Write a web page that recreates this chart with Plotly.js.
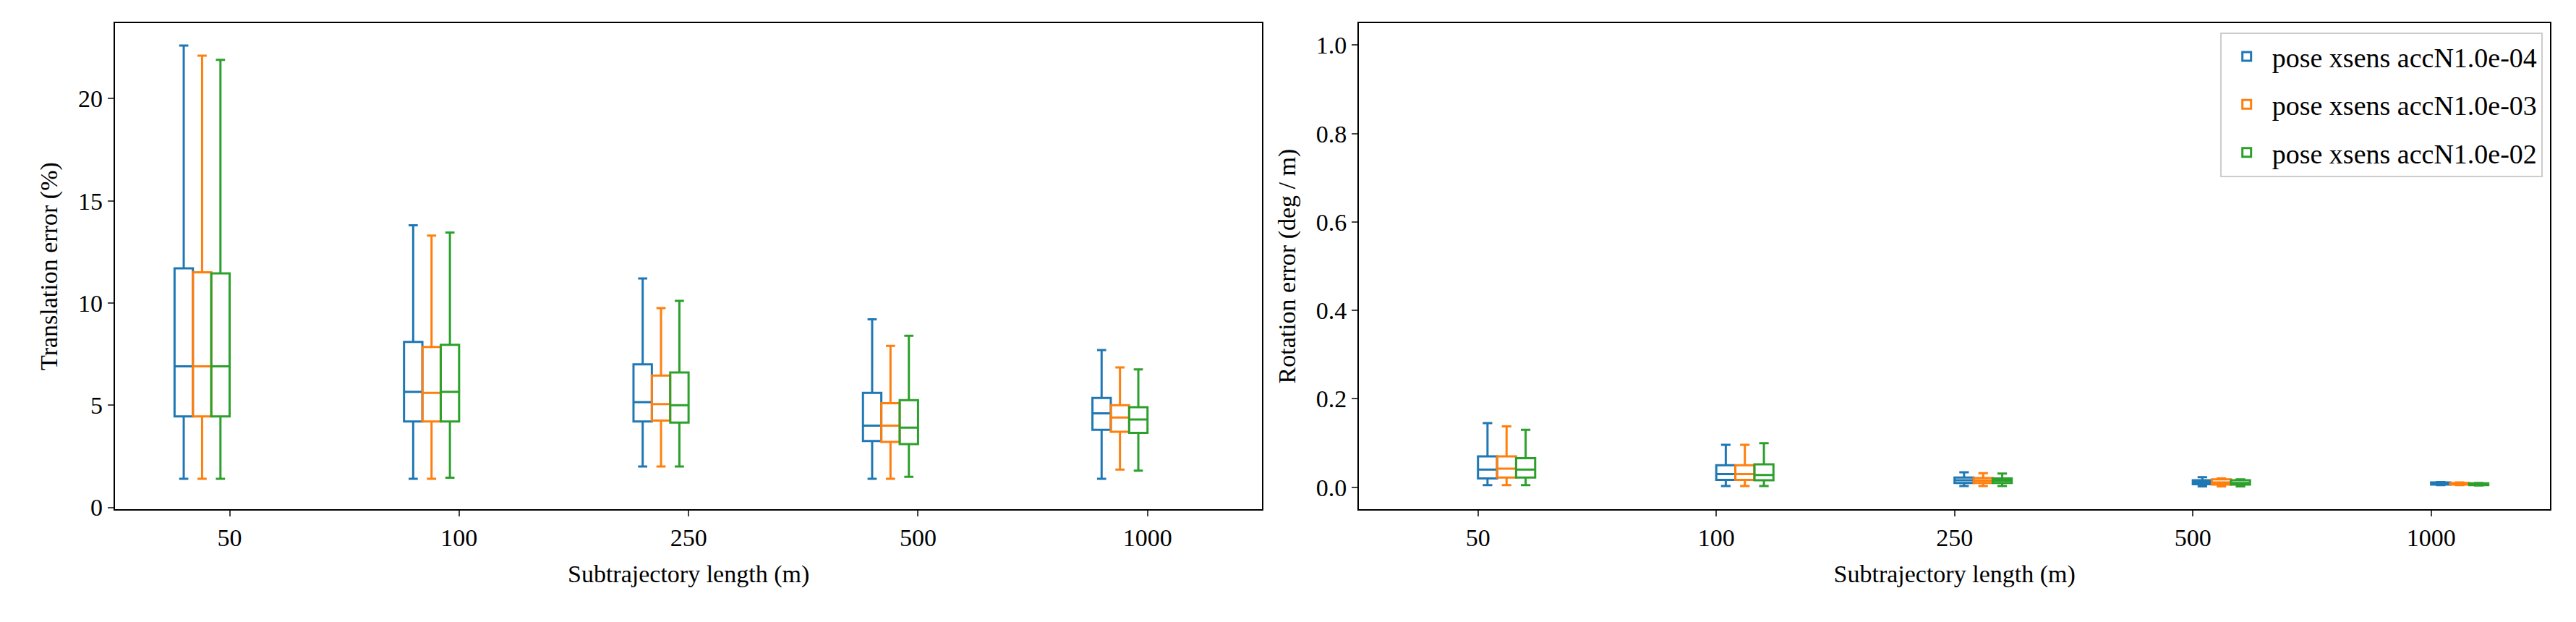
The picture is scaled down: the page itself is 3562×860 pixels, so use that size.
<!DOCTYPE html>
<html>
<head>
<meta charset="utf-8">
<script src="https://cdn.plot.ly/plotly-3.0.1.min.js"></script>
<style>body{margin:0;background:#fff}#plot{width:3562px;height:860px}</style>
</head>
<body>
<div id="plot"></div>
<script>
var lengths = ["50", "100", "250", "500", "1000"];
var names = ["pose xsens accN1.0e-04", "pose xsens accN1.0e-03", "pose xsens accN1.0e-02"];
var colors = ["#1f77b4", "#ff7f0e", "#2ca02c"];

// translation error (%) : [lowerfence, q1, median, q3, upperfence] per length
var transStats = [
  [[1.4,4.45,6.9,11.7,22.6],[1.4,4.2,5.65,8.1,13.8],[2.0,4.2,5.15,7.0,11.2],[1.4,3.25,4.0,5.6,9.2],[1.4,3.8,4.6,5.35,7.7]],
  [[1.4,4.45,6.9,11.5,22.1],[1.4,4.2,5.6,7.85,13.3],[2.0,4.25,5.05,6.45,9.75],[1.4,3.2,4.0,5.1,7.9],[1.85,3.7,4.4,5.0,6.85]],
  [[1.4,4.45,6.9,11.45,21.9],[1.45,4.2,5.65,7.95,13.45],[2.0,4.15,5.0,6.6,10.1],[1.5,3.1,3.9,5.25,8.4],[1.8,3.65,4.3,4.9,6.75]]
];
// rotation error (deg / m)
var rotStats = [
  [[0.005,0.02,0.04,0.07,0.145],[0.003,0.017,0.03,0.05,0.096],[0.003,0.01,0.016,0.022,0.034],[0.002,0.007,0.011,0.016,0.023],[0.005,0.006,0.008,0.011,0.012]],
  [[0.005,0.022,0.042,0.07,0.138],[0.003,0.017,0.03,0.05,0.096],[0.003,0.01,0.015,0.021,0.032],[0.002,0.006,0.011,0.018,0.02],[0.005,0.006,0.008,0.01,0.011]],
  [[0.005,0.022,0.04,0.066,0.13],[0.003,0.016,0.028,0.052,0.1],[0.003,0.01,0.015,0.02,0.031],[0.002,0.006,0.01,0.016,0.018],[0.004,0.005,0.007,0.009,0.01]]
];

function col(stats, k){ return stats.map(function(s){ return s[k]; }); }

var traces = [];
[transStats, rotStats].forEach(function(set, p){
  set.forEach(function(stats, i){
    traces.push({
      type: "box", name: names[i], legendgroup: names[i], showlegend: p === 1,
      x: lengths, xaxis: p ? "x2" : "x", yaxis: p ? "y2" : "y",
      lowerfence: col(stats,0), q1: col(stats,1), median: col(stats,2),
      q3: col(stats,3), upperfence: col(stats,4),
      line: {color: colors[i], width: 3}, fillcolor: "rgba(0,0,0,0)",
      whiskerwidth: 0.5, boxpoints: false, hoverinfo: "y"
    });
  });
});

var font = {family: "Liberation Serif, DejaVu Serif, serif", size: 34, color: "#000"};
function ax(extra){
  return Object.assign({showline: true, mirror: true, linecolor: "#000", linewidth: 2,
    ticks: "outside", ticklen: 8, tickwidth: 2, showgrid: false, zeroline: false,
    tickfont: font}, extra);
}
var layout = {
  width: 3562, height: 860, font: font,
  paper_bgcolor: "#fff", plot_bgcolor: "#fff",
  margin: {l: 0, r: 0, t: 0, b: 0},
  boxmode: "group", boxgap: 0.52, boxgroupgap: 0.0,
  xaxis: ax({domain: [0.0446, 0.49], anchor: "y", type: "category",
    title: {text: "Subtrajectory length (m)", font: font, standoff: 20}}),
  yaxis: ax({domain: [0.181, 0.963], anchor: "x", range: [-0.1, 23.7], tickvals: [0,5,10,15,20],
    title: {text: "Translation error (%)", font: font, standoff: 18}}),
  xaxis2: ax({domain: [0.5275, 0.990], anchor: "y2", type: "category",
    title: {text: "Subtrajectory length (m)", font: font, standoff: 20}}),
  yaxis2: ax({domain: [0.181, 0.963], anchor: "x2", range: [-0.05, 1.05],
    tickvals: [0,0.2,0.4,0.6,0.8,1.0], ticktext: ["0.0","0.2","0.4","0.6","0.8","1.0"],
    title: {text: "Rotation error (deg / m)", font: font, standoff: 18}}),
  legend: {x: 0.987, y: 0.948, xanchor: "right", yanchor: "top", xref: "paper", yref: "paper",
    bgcolor: "rgba(255,255,255,0.8)", bordercolor: "#ccc", borderwidth: 2,
    font: {family: font.family, size: 38, color: "#000"}, tracegroupgap: 14, itemwidth: 60}
};
Plotly.newPlot("plot", traces, layout, {staticPlot: true});
</script>
</body>
</html>
